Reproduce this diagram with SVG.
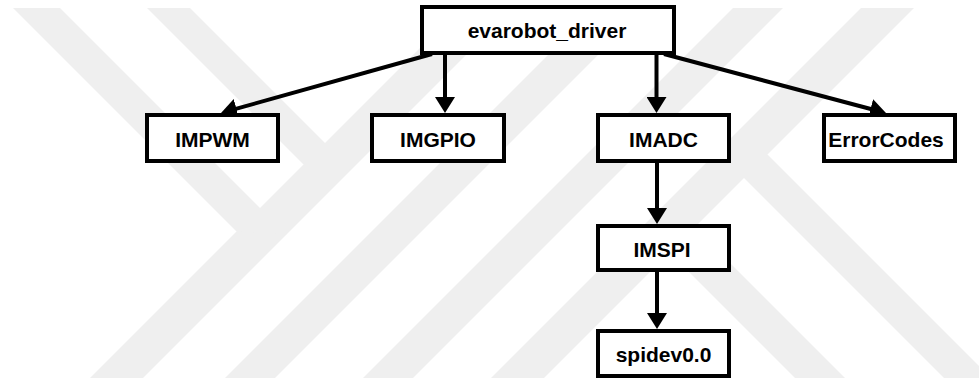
<svg xmlns="http://www.w3.org/2000/svg" width="979" height="383" viewBox="0 0 979 383">
<defs>
<style>
.wm{fill:#efefef}
.box{fill:#fff;stroke:#000;stroke-width:4}
.lbl{font-family:"Liberation Sans",Arial,sans-serif;font-weight:bold;font-size:21px;fill:#000;text-anchor:middle}
.edge{stroke:#000;stroke-width:4;fill:none;marker-end:url(#ah)}
</style>
<marker id="ah" markerUnits="userSpaceOnUse" markerWidth="16" markerHeight="20" refX="10" refY="10" orient="auto">
<path d="M0,0 L16,10 L0,20 z" fill="#000"/>
</marker>
</defs>
<rect width="979" height="383" fill="#fff"/>
<g id="watermark">
<polygon class="wm" points="90,378 143,378 513,8 460,8"/>
<polygon class="wm" points="225,378 275,378 645,8 595,8"/>
<polygon class="wm" points="363,378 413,378 783,8 733,8"/>
<polygon class="wm" points="491,378 544,378 914,8 861,8"/>
<polygon class="wm" points="13,8 60,8 286.5,234.5 236.5,231.5"/>
<polygon class="wm" points="147,8 190,8 351.5,169.5 303.5,164.5"/>
<polygon class="wm" points="795,378 845,378 694.5,227.5 643,226"/>
<polygon class="wm" points="944,378 991,378 767.5,154.5 717.5,151.5"/>
</g>
<g id="connectors">
<line class="edge" x1="432" y1="54" x2="226.8" y2="111.4"/>
<line class="edge" x1="445" y1="50" x2="445" y2="107"/>
<line class="edge" x1="656.5" y1="50" x2="656.5" y2="107"/>
<line class="edge" x1="664" y1="54" x2="880.2" y2="111.5"/>
<line class="edge" x1="657" y1="160" x2="657" y2="218"/>
<line class="edge" x1="657" y1="268" x2="657" y2="323"/>
</g>
<g id="node-evarobot_driver">
<rect class="box" x="422" y="7" width="252" height="46"/>
<text class="lbl" x="547" y="38">evarobot_driver</text>
</g>
<g id="node-IMPWM">
<rect class="box" x="147" y="115" width="131" height="46"/>
<text class="lbl" x="212.5" y="146.5">IMPWM</text>
</g>
<g id="node-IMGPIO">
<rect class="box" x="372" y="115" width="132" height="46"/>
<text class="lbl" x="438" y="146.5">IMGPIO</text>
</g>
<g id="node-IMADC">
<rect class="box" x="598" y="115" width="131" height="46"/>
<text class="lbl" x="663.5" y="146.5">IMADC</text>
</g>
<g id="node-ErrorCodes">
<rect class="box" x="824" y="115" width="131" height="46"/>
<text class="lbl" x="886" y="146.5">ErrorCodes</text>
</g>
<g id="node-IMSPI">
<rect class="box" x="598" y="226" width="131" height="44"/>
<text class="lbl" x="662" y="257">IMSPI</text>
</g>
<g id="node-spidev0.0">
<rect class="box" x="598" y="331" width="131" height="45"/>
<text class="lbl" x="663.5" y="362">spidev0.0</text>
</g>
</svg>
